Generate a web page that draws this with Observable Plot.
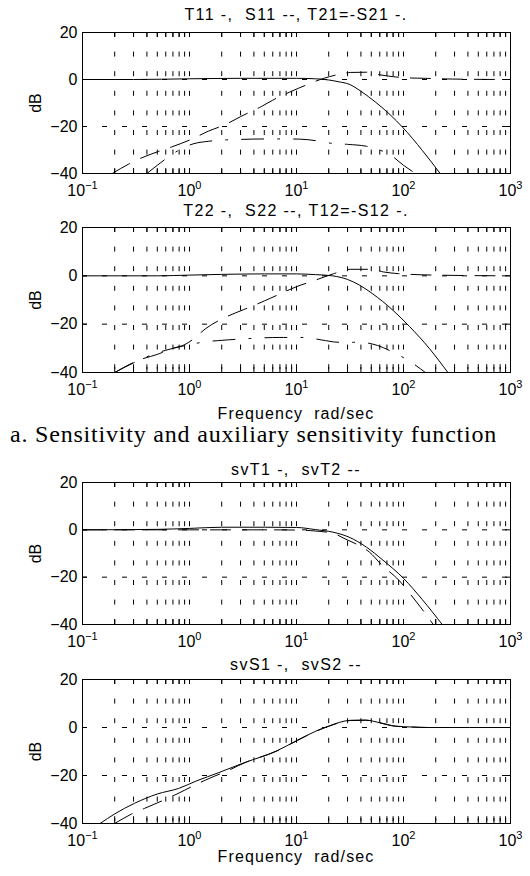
<!DOCTYPE html>
<html><head><meta charset="utf-8">
<script src="https://cdn.jsdelivr.net/npm/d3@7"></script>
<script src="https://cdn.jsdelivr.net/npm/@observablehq/plot@0.6"></script>
<style>
html,body{margin:0;padding:0;background:#fff;overflow:hidden;}
#page{position:relative;width:530px;height:876px;overflow:hidden;font-family:"Liberation Sans",Arial,sans-serif;color:#000;}
.ttl{position:absolute;left:82px;width:428px;text-align:center;font-size:16px;line-height:16px;letter-spacing:1.4px;white-space:pre;}
.xl{position:absolute;left:82px;width:428px;text-align:center;font-size:16px;line-height:16px;letter-spacing:1.1px;white-space:pre;}
.cap{position:absolute;left:10px;font-family:"Liberation Serif","Times New Roman",serif;font-size:24px;line-height:24px;letter-spacing:0.8px;white-space:pre;}
.plot{position:absolute;left:0;}
</style></head><body><div id="page"></div>
<script>
// ---- axis ticks ----
const xTicksMajor = [0.1, 1, 10, 100, 1000];
const xTickExponents = ["-1", "0", "1", "2", "3"];
const yTicks = [-40, -20, 0, 20];
const yGridLines = [0, -20];

// ---- texts ----
const titles = ["T11 -,  S11 --, T21=-S21 -.", "T22 -,  S22 --, T12=-S12 -.", "svT1 -,  svT2 --", "svS1 -,  svS2 --"];
const xLabelText = "Frequency  rad/sec";
const yLabelText = "dB";
const captionA = "a. Sensitivity and auxiliary sensitivity function";
const captionB = "b. Singular value plots";

// ---- panel 1 ----
const p1T11Freq = [0.1, 0.3, 1, 3, 10, 15, 20, 25, 31, 40, 55, 75, 98, 150, 220];
const p1T11dB   = [0, 0, 0.3, 0.5, 0.5, 0.3, -0.2, -1, -2, -5, -9.7, -15, -20.3, -30.2, -40];
const p1S11Freq = [0.19, 0.27, 0.35, 0.5, 0.7, 1, 1.5, 2.2, 3, 4.7, 6, 9, 12.4, 18, 25, 32, 45, 60, 80, 110, 160, 220, 400, 1000];
const p1S11dB   = [-40, -36, -33.5, -30.8, -28.5, -25.8, -22, -19, -15.8, -11.5, -8.8, -5, -2.3, 0.5, 2.2, 3, 3.1, 2, 1.2, 0.7, 0.5, 0.3, 0.1, 0];
const p1T21Freq = [0.4, 0.5, 0.6, 0.8, 1.1, 1.5, 2, 3, 5, 8, 11, 15, 20, 30, 45, 55, 75, 100, 130];
const p1T21dB   = [-40, -36.5, -33.8, -30, -27.3, -26.3, -25.8, -25.5, -25.3, -25.3, -25.4, -26, -27, -27.6, -28.4, -29.5, -32, -36.5, -40];

// ---- panel 2 ----
const p2T22Freq = [0.1, 0.5, 1, 2, 5, 10, 15, 21.7, 30, 39, 51, 79, 114, 174, 260];
const p2T22dB   = [0, 0, 0.3, 0.6, 0.8, 0.8, 0.5, 0, -1.5, -3.9, -7.3, -14.1, -21, -30, -40];
const p2S22Freq = [0.2, 0.33, 0.5, 0.7, 0.9, 1.1, 1.4, 2.2, 3.2, 5, 7, 10, 15, 22, 32, 50, 65, 90, 200, 1000];
const p2S22dB   = [-40, -35, -32.5, -30, -28.5, -26, -22, -17, -14, -10.4, -7.5, -4.5, -1.8, 0.8, 2.7, 2.7, 1.6, 0.9, 0.3, 0];
const p2T12Freq = [0.2, 0.3, 0.4, 0.6, 1.0, 1.4, 2, 3.4, 7, 12, 17, 25, 39, 57, 79, 120, 160];
const p2T12dB   = [-40, -36, -33.5, -30.8, -28.5, -27.3, -26.7, -26, -25.5, -25.5, -26.5, -27.5, -27.5, -28.8, -31.5, -36, -40];

// ---- panel 3 ----
const p3svT1Freq = [0.1, 0.5, 1, 2, 5, 10, 15, 22, 31, 45, 63, 100, 150, 230];
const p3svT1dB   = [0, 0.2, 0.6, 1.1, 1.1, 1.0, 0.1, -1, -3.1, -7.3, -12.5, -20.5, -29.5, -40];
const p3svT2Freq = [0.1, 1, 5, 10, 15, 22, 29, 38, 48, 63, 91, 115, 156, 190];
const p3svT2dB   = [0, 0, 0, -0.1, -0.5, -1.5, -4, -6.5, -9.4, -15, -21.4, -27, -34.7, -40];

// ---- panel 4 ----
const p4svS1Freq = [0.146, 0.2, 0.306, 0.5, 0.79, 1.17, 1.85, 3.24, 6.56, 10, 15.2, 20, 32, 44, 60, 84, 120, 170, 1000];
const p4svS1dB   = [-40, -36, -31.6, -27.7, -25.4, -22.2, -18.9, -14.7, -9.7, -5.5, -1.5, 0.6, 3, 3.1, 2, 0.6, 0.2, 0, 0];
const p4svS2Freq = [0.2, 0.286, 0.38, 0.577, 0.78, 1.17, 1.55, 2.28, 3.24, 6.56, 10, 15.2, 20, 32, 44, 60, 84, 120, 170, 1000];
const p4svS2dB   = [-40, -36.1, -33.7, -30.2, -27.5, -23.6, -21.1, -18, -14.8, -9.8, -5.6, -1.6, 0.5, 2.9, 3, 1.9, 0.5, 0.2, 0, 0];

// ---- styles ----
const SOLID = null, DASHED = "20,12", DASHDOT = "22,14,2,14";

// minor/major x tick positions (log decades)
const xTicksAll = [];
for (let k = -1; k <= 2; k++) for (let m = 1; m <= 9; m++) xTicksAll.push(+(m * Math.pow(10, k)).toPrecision(6));
xTicksAll.push(1000);

const page = document.getElementById("page");
const NS = "http://www.w3.org/2000/svg";

function series(freq, dB, dash) {
  return Plot.line(freq.map((f, i) => ({f, db: dB[i]})), {
    x: "f", y: "db", stroke: "#000", strokeWidth: 1,
    strokeDasharray: dash == null ? undefined : dash,
    curve: "monotone-x", clip: true
  });
}

function addDiv(cls, text, top) {
  const d = document.createElement("div");
  d.className = cls; d.textContent = text; d.style.top = top + "px";
  page.appendChild(d);
}

function panel(cfg) {
  const mT = 6, mB = 34, W = 530, mL = 82, mR = 20;
  const h = cfg.h, pw = W - mL - mR;
  const svg = Plot.plot({
    width: W, height: h + mT + mB,
    marginLeft: mL, marginRight: mR, marginTop: mT, marginBottom: mB,
    x: {type: "log", domain: [0.1, 1000]},
    y: {domain: [-40, 20]},
    style: {fontFamily: "'Liberation Sans', Arial, sans-serif", color: "#000", background: "#fff", overflow: "visible"},
    marks: [
      Plot.ruleX(xTicksAll, {stroke: "#000", strokeWidth: 1, strokeDasharray: "5,14.6"}),
      Plot.ruleY(yGridLines, {stroke: "#000", strokeWidth: 1, strokeDasharray: "5,15"}),
      Plot.ruleX(xTicksAll, {stroke: "#000", strokeWidth: 1, insetTop: h - 5}),
      Plot.ruleX(xTicksAll, {stroke: "#000", strokeWidth: 1, insetBottom: h - 5}),
      Plot.ruleY(yTicks, {stroke: "#000", strokeWidth: 1, insetRight: pw - 5}),
      Plot.ruleY(yTicks, {stroke: "#000", strokeWidth: 1, insetLeft: pw - 5}),
      ...cfg.lines,
      Plot.frame({stroke: "#000", strokeWidth: 1}),
      Plot.axisX(xTicksMajor, {tickSize: 0, tickPadding: 11.5, fontSize: 16, label: null,
        tickFormat: d => "10^" + xTickExponents[xTicksMajor.indexOf(d)]}),
      Plot.axisY(yTicks, {tickSize: 0, tickPadding: 5, fontSize: 16, label: null}),
      Plot.text([yLabelText], {frameAnchor: "left", dx: -47, rotate: -90, fontSize: 16, textAnchor: "middle", lineAnchor: "middle"})
    ]
  });
  // superscript exponents on x tick labels
  svg.querySelectorAll("text").forEach(t => {
    const s = t.textContent;
    if (s.startsWith("10^")) {
      const exp = s.slice(3).replace("-", "\u2212");
      t.textContent = "";
      const a = document.createElementNS(NS, "tspan"); a.textContent = "10";
      const b = document.createElementNS(NS, "tspan"); b.textContent = exp;
      b.setAttribute("dy", "-7"); b.setAttribute("font-size", "11");
      t.appendChild(a); t.appendChild(b);
    }
  });
  const wrap = document.createElement("div");
  wrap.className = "plot"; wrap.style.top = (cfg.top - mT) + "px";
  wrap.appendChild(svg);
  page.appendChild(wrap);
  addDiv("ttl", cfg.title, cfg.titleBase - 13);
  if (cfg.xlabelBase) addDiv("xl", xLabelText, cfg.xlabelBase - 13);
}

panel({top: 32, h: 141, title: titles[0], titleBase: 19.5,
  lines: [series(p1T11Freq, p1T11dB, SOLID), series(p1S11Freq, p1S11dB, DASHED), series(p1T21Freq, p1T21dB, DASHDOT)]});
panel({top: 227, h: 145, title: titles[1], titleBase: 216, xlabelBase: 418.5,
  lines: [series(p2T22Freq, p2T22dB, SOLID), series(p2S22Freq, p2S22dB, DASHED), series(p2T12Freq, p2T12dB, DASHDOT)]});
panel({top: 482, h: 142, title: titles[2], titleBase: 474.5,
  lines: [series(p3svT1Freq, p3svT1dB, SOLID), series(p3svT2Freq, p3svT2dB, DASHED)]});
panel({top: 679, h: 144, title: titles[3], titleBase: 670, xlabelBase: 862,
  lines: [series(p4svS1Freq, p4svS1dB, SOLID), series(p4svS2Freq, p4svS2dB, DASHED)]});

addDiv("cap", captionA, 442 - 20);
addDiv("cap", captionB, 892 - 20);
</script></body></html>
